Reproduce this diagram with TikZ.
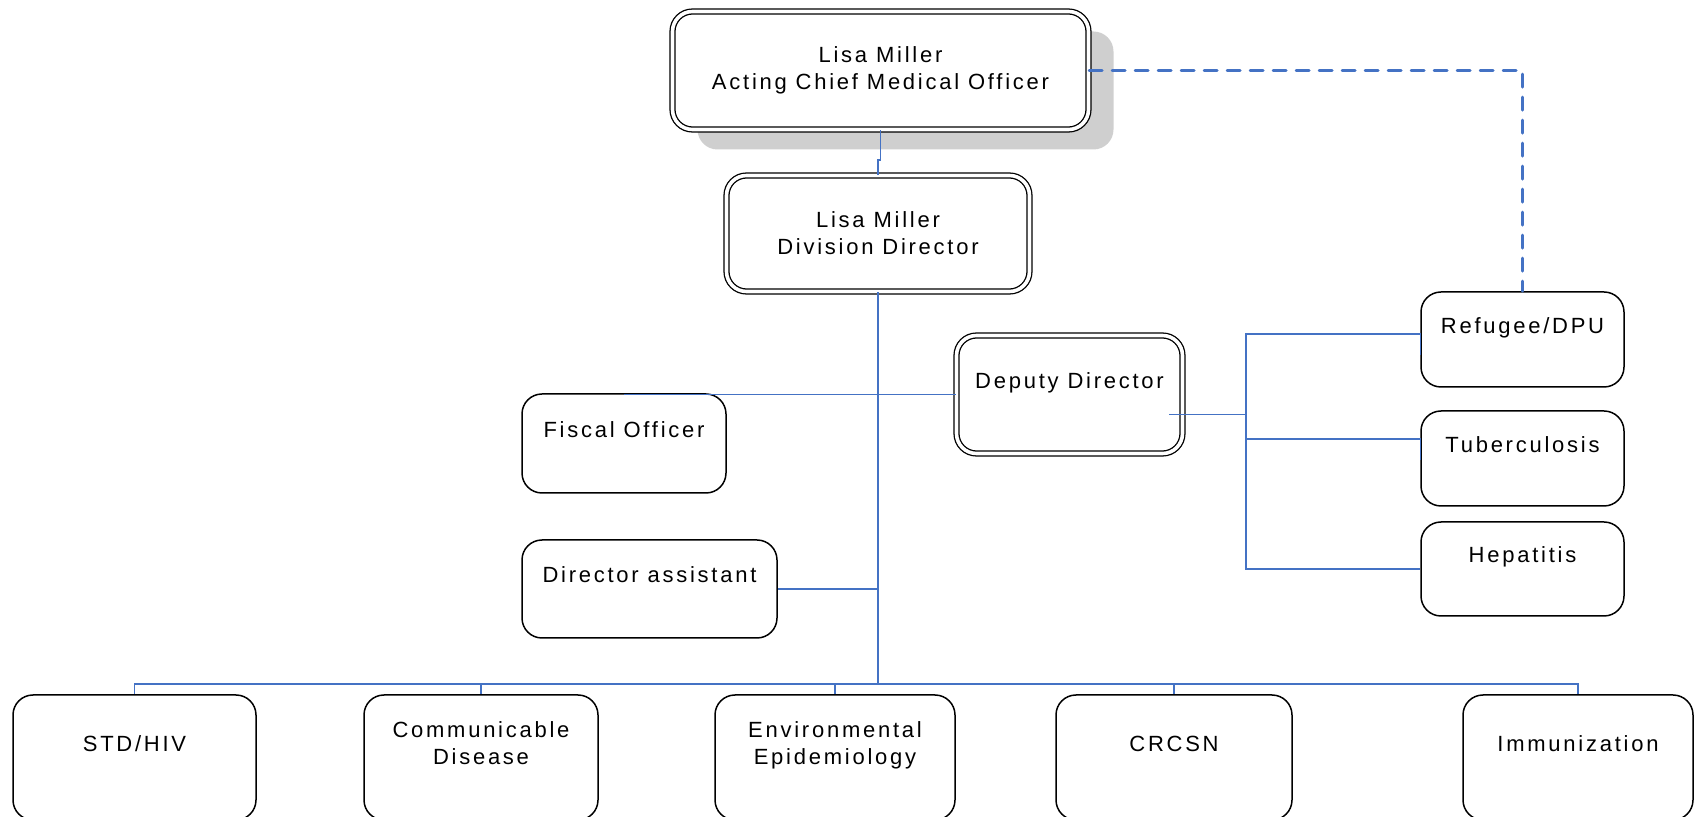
\documentclass[tikz,border=0pt]{standalone}
\usepackage{fontspec}
\setmainfont{Liberation Sans}[LetterSpace=12.5]
\usepackage{xcolor}
\usepackage{tikz}
\usetikzlibrary{positioning,shadows}
\definecolor{linkblue}{HTML}{4472C4}

\begin{document}
\begin{tikzpicture}[
  x=0.5pt, y=-0.5pt,
  font=\fontsize{11pt}{13.5pt}\selectfont,
  box/.style={draw, line width=0.75pt, rounded corners=10pt, fill=white, align=center, inner sep=0pt, text height=8pt, text depth=14pt},
  dbox/.style={draw, line width=0.65pt, double, double distance=1.8pt, rounded corners=10pt, fill=white, align=center, inner sep=0pt},
  link/.style={draw=linkblue, line width=0.75pt},
  trunk/.style={draw=linkblue, line width=1.3pt},
  dashlink/.style={draw=linkblue, line width=1.4pt, dash pattern=on 6.5pt off 5pt, line cap=round}
]
\useasboundingbox (0,0) rectangle (1694,817);
\node[dbox, minimum width=208pt, minimum height=59pt, general shadow={fill=black!19, shadow xshift=12.5pt, shadow yshift=-10pt}] (cmo) at (880.5,70.5) {Lisa Miller\\Acting Chief Medical Officer};
\node[dbox, minimum width=151.5pt, minimum height=58pt] (dd) at (878,233.5) {Lisa Miller\\Division Director};
\node[dbox, minimum width=113pt, minimum height=59pt, text height=8pt, text depth=14pt] (deputy) at (1069.5,394.5) {Deputy Director};
\node[box, minimum width=102pt, minimum height=49.5pt] (fiscal) at (624,443.5) {Fiscal Officer};
\node[box, minimum width=127.5pt, minimum height=49pt] (assist) at (649.5,589) {Director assistant};
\node[box, minimum width=101.5pt, minimum height=47.5pt] (refugee) at (1522.5,339.5) {Refugee/DPU};
\node[box, minimum width=101.5pt, minimum height=47.5pt, below=11.25pt of refugee] (tb) {Tuberculosis};
\node[box, minimum width=101.5pt, minimum height=47pt, below=7.25pt of tb] (hep) {Hepatitis};
\node[box, minimum width=121.5pt, minimum height=62.5pt] (std) at (134.5,757.5) {STD/HIV};
\node[box, minimum width=117pt, minimum height=62.5pt, text depth=0.7pt, right=53.25pt of std] (comm) {Communicable\\Disease};
\node[box, minimum width=120pt, minimum height=62.5pt, text depth=0.7pt, right=57.75pt of comm] (env) {Environmental\\Epidemiology};
\node[box, minimum width=118pt, minimum height=62.5pt, right=49.75pt of env] (crcsn) {CRCSN};
\node[box, minimum width=115pt, minimum height=62.5pt, right=84.75pt of crcsn] (imm) {Immunization};
\coordinate (bus) at ([yshift=5pt]dd.south |- std.north);
\coordinate (dstub) at ([shift={(-7pt,-10pt)}]deputy.east);
\coordinate (split) at ([xshift=38.5pt]dstub);
\draw[link] (cmo.south) -- ++(0,-15pt) -| (dd.north);
\draw[trunk] (dd.south) -- (bus);
\draw[link] (std.north) |- (bus) -| (imm.north);
\foreach \n in {comm,env,crcsn}
  \draw[link] (\n.north) -- (\n.north |- bus);
\draw[link] (deputy.west) -- (deputy.west -| fiscal.north);
\draw[link] (assist.east) -- (assist.east -| bus);
\draw[link] (dstub) -- (split);
\draw[link] (split) |- ([yshift=2.75pt]refugee.west) -- ([yshift=-7.75pt]refugee.west);
\draw[link] (split) |- ([yshift=9.75pt]tb.west) -- ([yshift=-0.75pt]tb.west);
\draw[link] (split) |- (hep.west);
\draw[dashlink] (cmo.east) -| (refugee.north);
\end{tikzpicture}
\end{document}
